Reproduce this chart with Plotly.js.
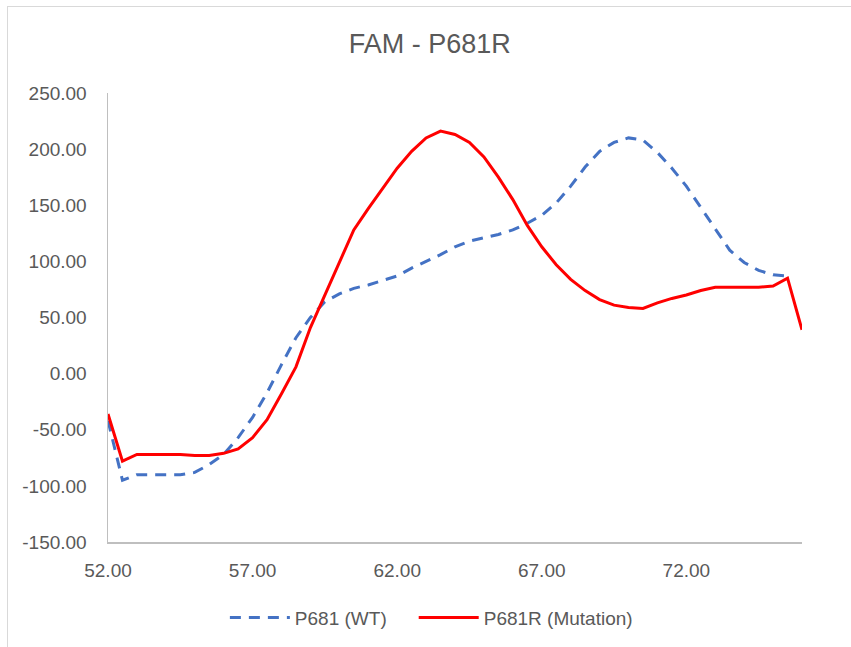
<!DOCTYPE html>
<html>
<head>
<meta charset="utf-8">
<script src="https://cdn.plot.ly/plotly-3.0.1.min.js"></script>
<style>
  html, body { margin: 0; padding: 0; background: #ffffff; overflow: hidden; }
  #chart { width: 851px; height: 647px; position: relative; }
  #frame { position: absolute; left: 7px; top: 6px; width: 900px; height: 700px;
           border-left: 1.5px solid #D9D9D9; border-top: 1.5px solid #D9D9D9;
           pointer-events: none; box-sizing: border-box; }
</style>
</head>
<body>
<div id="chart"></div>
<div id="frame"></div>
<script>
// Temperature (x) values, 0.5 step from 52 to 76
const temperature = [
  52.0, 52.5, 53.0, 53.5, 54.0, 54.5, 55.0, 55.5, 56.0, 56.5,
  57.0, 57.5, 58.0, 58.5, 59.0, 59.5, 60.0, 60.5, 61.0, 61.5,
  62.0, 62.5, 63.0, 63.5, 64.0, 64.5, 65.0, 65.5, 66.0, 66.5,
  67.0, 67.5, 68.0, 68.5, 69.0, 69.5, 70.0, 70.5, 71.0, 71.5,
  72.0, 72.5, 73.0, 73.5, 74.0, 74.5, 75.0, 75.5, 76.0
];

// P681 (WT) - dashed blue
const wtValues = [
  -42, -95, -90, -90, -90, -90, -88, -81, -72, -57,
  -39, -17, 8, 32, 50, 64, 71, 76, 79, 83,
  87, 94, 100, 106, 113, 118, 121, 124, 128, 134,
  141, 152, 167, 184, 198, 206, 210, 208, 197, 183,
  167, 148, 128, 110, 99, 92, 88, 87, null
];

// P681R (Mutation) - solid red
const mutValues = [
  -36, -78, -72, -72, -72, -72, -73, -73, -71, -67,
  -57, -41, -18, 6, 41, 70, 100, 128, 147, 165,
  183, 198, 210, 216, 213, 206, 193, 175, 155, 132,
  113, 97, 84, 74, 66, 61, 59, 58, 63, 67,
  70, 74, 77, 77, 77, 77, 78, 85, 39
];

const xTickVals = [52, 57, 62, 67, 72];
const xTickText = ["52.00", "57.00", "62.00", "67.00", "72.00"];
const yTickVals = [250, 200, 150, 100, 50, 0, -50, -100, -150];
const yTickText = ["250.00", "200.00", "150.00", "100.00", "50.00", "0.00", "-50.00", "-100.00", "-150.00"];

const seriesNames = ["P681 (WT)", "P681R (Mutation)"];

const FONT = "'Liberation Sans', Arial, sans-serif";
const GREY = "#595959";

const traces = [
  {
    x: temperature, y: wtValues, name: seriesNames[0], legend: "legend",
    type: "scatter", mode: "lines", connectgaps: false,
    line: { color: "#4472C4", width: 3, dash: "11px,8px" }
  },
  {
    x: temperature, y: mutValues, name: seriesNames[1], legend: "legend2",
    type: "scatter", mode: "lines",
    line: { color: "#FF0000", width: 3 }
  }
];

function legendAt(xp) {
  return {
    orientation: "h", xref: "paper", yref: "paper",
    x: xp, xanchor: "left", y: -0.166, yanchor: "middle",
    font: { family: FONT, size: 19, color: GREY },
    itemwidth: 60, bgcolor: "rgba(0,0,0,0)", borderwidth: 0
  };
}

const layout = {
  width: 851, height: 647,
  margin: { l: 108, r: 49, t: 93, b: 104, pad: 0 },
  paper_bgcolor: "rgba(0,0,0,0)", plot_bgcolor: "#ffffff",
  font: { family: FONT, color: GREY, size: 19 },
  title: {
    text: "FAM - P681R",
    font: { family: FONT, size: 27, color: GREY },
    x: 0.505, xref: "container", xanchor: "center",
    y: 1 - 44 / 647, yref: "container", yanchor: "middle"
  },
  xaxis: {
    range: [52, 76], tickvals: xTickVals, ticktext: xTickText,
    showgrid: false, zeroline: false, showline: true,
    linecolor: "#BFBFBF", linewidth: 1.5, ticks: "",
    ticklabelstandoff: 11,
    tickfont: { family: FONT, size: 19, color: GREY }
  },
  yaxis: {
    range: [-150, 250], tickvals: yTickVals, ticktext: yTickText,
    showgrid: false, zeroline: false, showline: true,
    linecolor: "#BFBFBF", linewidth: 1.5, ticks: "",
    ticklabelstandoff: 16,
    tickfont: { family: FONT, size: 19, color: GREY }
  },
  showlegend: true,
  legend: legendAt(0.1684),
  legend2: legendAt(0.4405)
};

Plotly.newPlot("chart", traces, layout, { staticPlot: true, displayModeBar: false });
</script>
</body>
</html>
